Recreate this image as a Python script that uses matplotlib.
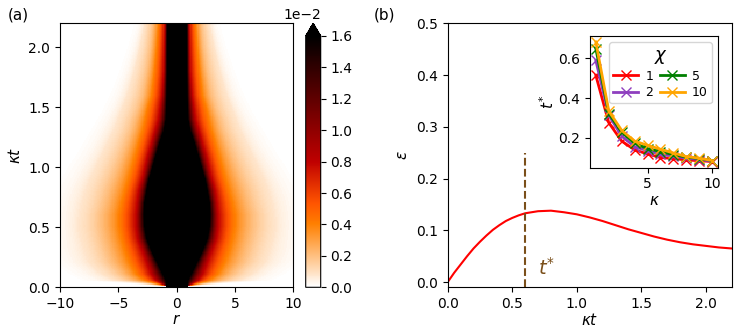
#!/usr/bin/env python3
# two panels: (a) density map r vs kappa*t, (b) epsilon(kappa t) + inset t* vs kappa
import numpy as np
import matplotlib
matplotlib.use("Agg")
import matplotlib.pyplot as plt

# ---- (a) radii (|r|) where the map reaches each level
levels = [0.016, 0.008, 0.004, 0.002, 0.0008, 0.0001]
kt_rows = [0.0, 0.05, 0.1, 0.2, 0.3, 0.4, 0.5, 0.6, 0.7, 0.8, 0.9,
           1.0, 1.1, 1.2, 1.3, 1.4, 1.5, 1.6, 1.8, 2.0, 2.2]
r_016 = [0.90, 0.95, 1.20, 1.70, 2.20, 2.60, 2.80, 2.85, 2.80, 2.60, 2.40,
         2.10, 1.80, 1.50, 1.15, 0.95, 0.90, 0.88, 0.86, 0.86, 0.86]
r_008 = [0.92, 1.80, 2.20, 2.60, 3.00, 3.40, 3.55, 3.55, 3.45, 3.30, 3.00,
         2.75, 2.50, 2.20, 1.90, 1.60, 1.45, 1.30, 1.15, 1.10, 1.05]
r_004 = [0.94, 2.80, 3.50, 4.10, 4.50, 4.80, 5.00, 5.00, 4.80, 4.50, 4.20,
         3.90, 3.60, 3.30, 3.00, 2.75, 2.50, 2.20, 1.95, 1.75, 1.60]
r_002 = [0.96, 4.00, 4.80, 5.70, 6.10, 6.40, 6.60, 6.60, 6.30, 6.00, 5.60,
         5.20, 4.80, 4.40, 4.00, 3.70, 3.30, 3.00, 2.60, 2.30, 2.10]
r_0008 = [0.98, 5.50, 6.50, 7.60, 8.00, 8.30, 8.50, 8.40, 8.20, 7.90, 7.50,
          7.00, 6.50, 6.00, 5.50, 5.10, 4.70, 4.30, 3.70, 3.20, 2.80]
r_0001 = [1.00, 8.00, 9.00, 10.5, 11.0, 11.0, 11.0, 11.0, 10.8, 10.4, 9.80,
          9.20, 8.50, 7.90, 7.30, 6.70, 6.10, 5.60, 4.80, 4.10, 3.50]

# ---- (b) epsilon vs kappa t
kt = [0.0, 0.05, 0.1, 0.15, 0.2, 0.25, 0.3, 0.35, 0.4, 0.45, 0.5, 0.55, 0.6,
      0.7, 0.8, 0.9, 1.0, 1.1, 1.2, 1.3, 1.4, 1.5, 1.6, 1.7, 1.8, 1.9, 2.0, 2.1, 2.2]
eps = [0.000, 0.018, 0.034, 0.050, 0.065, 0.078, 0.090, 0.101, 0.110, 0.118, 0.124, 0.129, 0.133,
       0.137, 0.138, 0.135, 0.131, 0.125, 0.118, 0.110, 0.102, 0.095, 0.088, 0.082, 0.077,
       0.073, 0.070, 0.067, 0.065]
t_star = 0.6

# ---- inset t* vs kappa for several chi
kappa = [1, 2, 3, 4, 5, 6, 7, 8, 9, 10]
chi_labels = ["1", "2", "5", "10"]
chi_colors = ["red", "#8e3fbf", "green", "orange"]
tstar_1 = [0.515, 0.276, 0.183, 0.139, 0.118, 0.100, 0.095, 0.088, 0.084, 0.080]
tstar_2 = [0.590, 0.314, 0.208, 0.155, 0.134, 0.118, 0.106, 0.097, 0.090, 0.082]
tstar_5 = [0.650, 0.322, 0.228, 0.172, 0.145, 0.130, 0.115, 0.102, 0.095, 0.085]
tstar_10 = [0.683, 0.335, 0.237, 0.183, 0.162, 0.142, 0.123, 0.105, 0.097, 0.085]


def build_map(nr=201, nt=221):
    r = np.linspace(-10, 10, nr)
    t = np.linspace(0, 2.2, nt)
    table = np.array([r_016, r_008, r_004, r_002, r_0008, r_0001])
    logl = np.log10(levels)
    Z = np.zeros((nt, nr))
    for i, ti in enumerate(t):
        rad = np.array([np.interp(ti, kt_rows, row) for row in table])
        xp = np.r_[rad, rad[-1] + 1.5]
        fp = np.r_[logl, -6.0]
        z = 10 ** np.interp(np.abs(r), xp, fp)
        z[np.abs(r) <= rad[0]] = 0.02
        Z[i] = z
    return Z


W, H = 747, 335
fig = plt.figure(figsize=(W / 100, H / 100), dpi=100)
def box(x0, y0, x1, y1):  # pixel box -> figure fraction
    return [x0 / W, 1 - y1 / H, (x1 - x0) / W, (y1 - y0) / H]

ax_a = fig.add_axes(box(60, 23.3, 293.3, 287.3))
cax = fig.add_axes(box(305.7, 23.3, 320.7, 287.3))
ax_b = fig.add_axes(box(447.7, 23.3, 731.7, 287.3))
ax_in = fig.add_axes(box(590, 36, 718, 167.5))

# (a)
im = ax_a.imshow(build_map(), origin="lower", extent=[-10, 10, 0, 2.2], aspect="auto",
                 cmap="gist_heat_r", vmin=0, vmax=0.016, interpolation="nearest")
ax_a.set_xticks([-10, -5, 0, 5, 10])
ax_a.set_yticks([0.0, 0.5, 1.0, 1.5, 2.0])
ax_a.set_xlabel(r"$r$", fontsize=11, labelpad=1)
ax_a.set_ylabel(r"$\kappa t$", fontsize=11)
cb = fig.colorbar(im, cax=cax, extend="max")
cb.set_ticks(np.arange(0, 0.0161, 0.002))
cb.formatter.set_powerlimits((0, 0))
cb.update_ticks()

# (b)
ax_b.plot(kt, eps, color="red", lw=1.5)
ax_b.vlines(t_star, -0.01, 0.25, colors="#7a4f1a", linestyles="--", lw=1.5)
ax_b.text(0.7, 0.015, r"$t^{*}$", color="#7a4f1a", fontsize=14)
ax_b.set_xlim(0, 2.2)
ax_b.set_ylim(-0.01, 0.5)
ax_b.set_xlabel(r"$\kappa t$", fontsize=11, labelpad=1)
ax_b.set_ylabel(r"$\varepsilon$", fontsize=11)

# inset
for ys, c, lab in zip([tstar_1, tstar_2, tstar_5, tstar_10], chi_colors, chi_labels):
    ax_in.plot(kappa, ys, color=c, marker="x", ms=7, lw=2, label=lab)
ax_in.set_xticks([5, 10])
ax_in.set_yticks([0.2, 0.4, 0.6])
ax_in.set_xlabel(r"$\kappa$", fontsize=11, labelpad=1)
ax_in.set_ylabel(r"$t^{*}$", fontsize=11, labelpad=1)
leg = ax_in.legend(title=r"$\chi$", ncol=2, fontsize=9, title_fontsize=13,
                   loc="upper right", columnspacing=0.5, handletextpad=0.6,
                   borderpad=0.3, labelspacing=0.3)

fig.text(8 / W, 1 - 8 / H, "(a)", fontsize=11, va="top")
fig.text(374 / W, 1 - 8 / H, "(b)", fontsize=11, va="top")

fig.savefig("out.png", dpi=100)
